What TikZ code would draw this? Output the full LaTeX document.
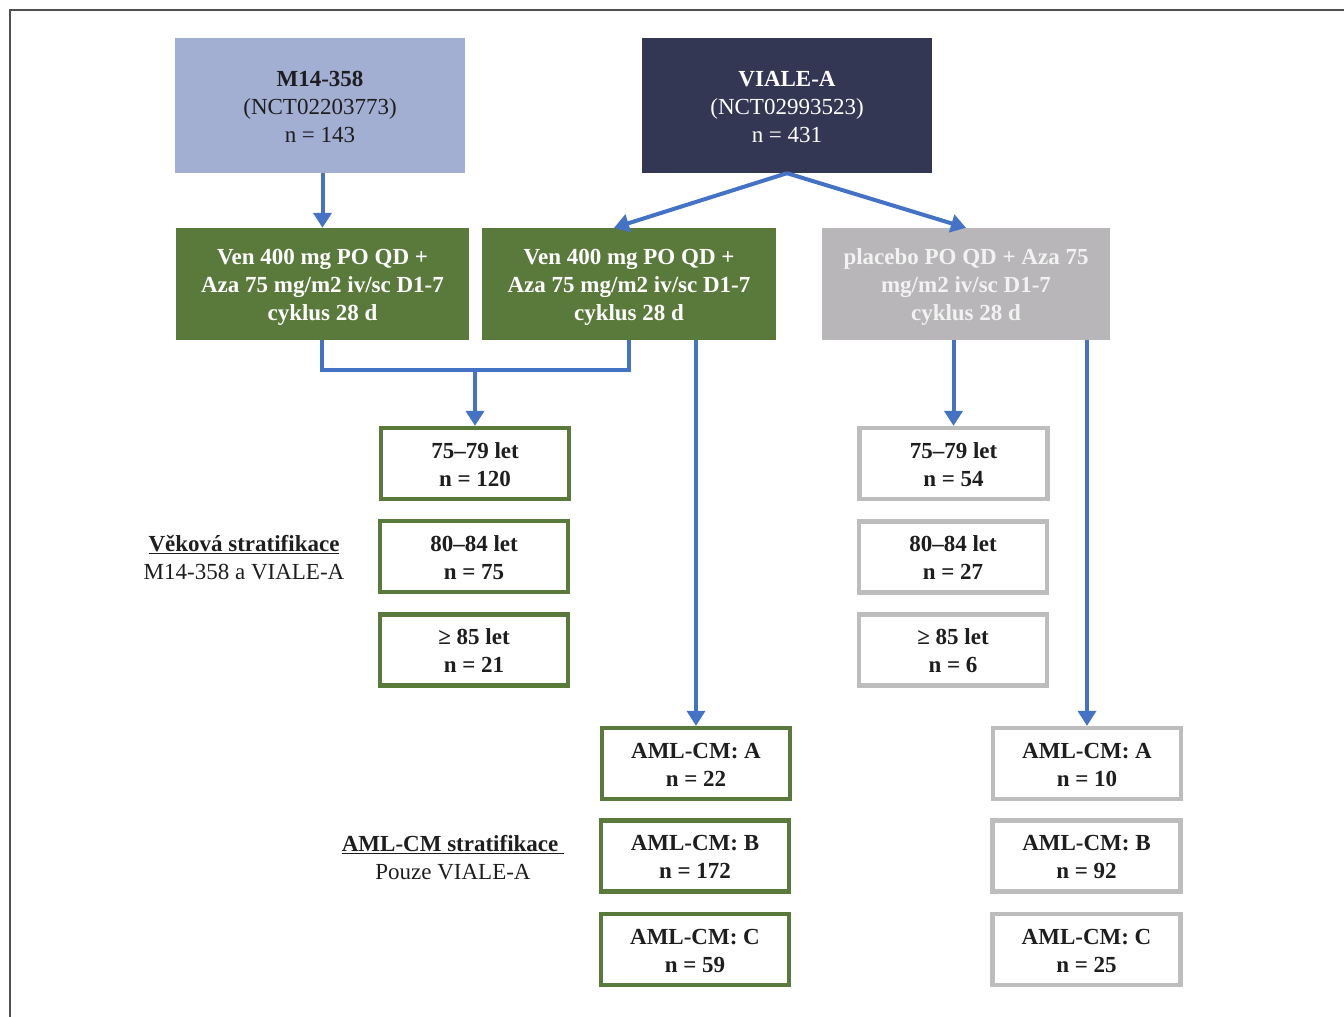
\documentclass[tikz,border=0pt]{standalone}
\usepackage{fontspec}
\setmainfont{Liberation Serif}
\usetikzlibrary{arrows.meta}
\definecolor{lblue}{HTML}{A2AED2}
\definecolor{navy}{HTML}{333754}
\definecolor{vgreen}{HTML}{5A7A3C}
\definecolor{vgray}{HTML}{B8B6B8}
\definecolor{bgray}{HTML}{BDBDBD}
\definecolor{cblue}{HTML}{4472C4}
\definecolor{frame}{HTML}{505050}
\definecolor{txt}{HTML}{1E1E1E}
\newcommand\bxtop{\rule{0pt}{22pt}}
\newcommand\bxbot{\rule[-4.5pt]{0pt}{0pt}}
\tikzset{
  fs/.style={font=\fontsize{23}{28}\selectfont, align=center, inner sep=0pt},
  st/.style={execute at end node=\bxbot},
  topbox/.style={fs, st, minimum width=290pt, minimum height=135pt},
  armbox/.style={fs, st, font=\fontsize{23}{28}\selectfont\bfseries, minimum height=112pt},
  gbox/.style={fs, st, font=\fontsize{23}{28}\selectfont\bfseries, text=txt, draw=vgreen, line width=4.3pt, fill=white, minimum width=188pt, minimum height=71pt},
  pbox/.style={gbox, draw=bgray},
  conn/.style={draw=cblue, line width=4pt},
  arr/.style={conn, -{Triangle[width=18pt,length=15pt]}},
  lab/.style={fs, text=txt}
}
\begin{document}
\begin{tikzpicture}[x=1pt,y=-1pt]
\useasboundingbox (0,0) rectangle (1344,1017);
\draw[frame, line width=1.5pt] (10,1020) -- (10,10) -- (1350,10);
% top boxes
\node[topbox, fill=lblue, text=txt] (m14) at (320,105.5) {\bxtop\textbf{M14-358}\\(NCT02203773)\\n = 143};
\node[topbox, fill=navy, text=white] (viale) at (787,105.5) {\bxtop\textbf{VIALE-A}\\(NCT02993523)\\n = 431};
% arm boxes
\node[armbox, fill=vgreen, text=white, minimum width=293pt] (g1) at (322.5,284) {\bxtop Ven 400 mg PO QD +\\Aza 75 mg/m2 iv/sc D1-7\\cyklus 28 d};
\node[armbox, fill=vgreen, text=white, minimum width=294pt] (g2) at (629,284) {\bxtop Ven 400 mg PO QD +\\Aza 75 mg/m2 iv/sc D1-7\\cyklus 28 d};
\node[armbox, fill=vgray, text=white!95!black, minimum width=288pt] (gr) at (966,284) {\bxtop placebo PO QD + Aza 75\\mg/m2 iv/sc D1-7\\cyklus 28 d};
% age boxes
\node[gbox] (ga1) at (475,463.5) {\bxtop 75–79 let\\n = 120};
\node[gbox] (ga2) at (474,556.5) {\bxtop 80–84 let\\n = 75};
\node[gbox] (ga3) at (474,650) {\bxtop ≥ 85 let\\n = 21};
\node[pbox] (pa1) at (953.5,463.5) {\bxtop 75–79 let\\n = 54};
\node[pbox] (pa2) at (953,557) {\bxtop 80–84 let\\n = 27};
\node[pbox] (pa3) at (953,650) {\bxtop ≥ 85 let\\n = 6};
% AML boxes
\node[gbox] (gc1) at (696,763.5) {\bxtop AML-CM: A\\n = 22};
\node[gbox] (gc2) at (695,856) {\bxtop AML-CM: B\\n = 172};
\node[gbox] (gc3) at (695,949.5) {\bxtop AML-CM: C\\n = 59};
\node[pbox] (pc1) at (1087,763.5) {\bxtop AML-CM: A\\n = 10};
\node[pbox] (pc2) at (1086.5,856) {\bxtop AML-CM: B\\n = 92};
\node[pbox] (pc3) at (1086.5,949.5) {\bxtop AML-CM: C\\n = 25};
% labels
\node[lab] (lage) at (244,558) {\textbf{\underline{Věková stratifikace}}\\M14-358 a VIALE-A};
\node[lab] (laml) at (453,858) {\textbf{\underline{AML-CM stratifikace\ }}\\Pouze VIALE-A};
% connectors
\coordinate (j) at (475,370);
\draw[arr] (m14.south -| g1.south) -- (g1.north);
\draw[arr] (viale.south) -- ([xshift=-15pt]g2.north);
\draw[arr] (viale.south) -- (gr.north);
\draw[conn] (g1.south -| 322,0) |- (j) -| (g2.south);
\draw[arr] (j) -- (ga1.north);
\draw[arr, line width=3.5pt] (gc1.north |- g2.south) -- (gc1.north);
\draw[arr] (pa1.north |- gr.south) -- (pa1.north);
\draw[arr, line width=3.5pt] (pc1.north |- gr.south) -- (pc1.north);
\end{tikzpicture}
\end{document}
